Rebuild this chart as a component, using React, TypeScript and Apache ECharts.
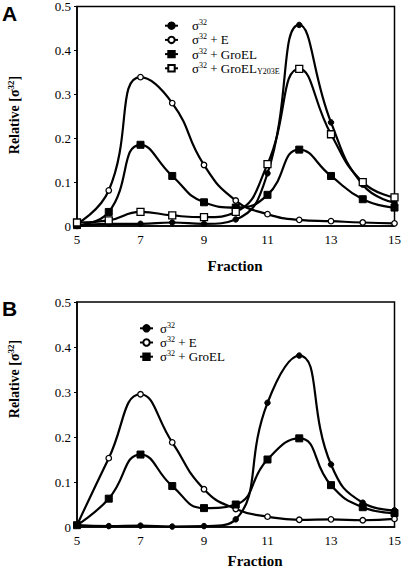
import React, { useEffect, useRef } from "react";
import * as echarts from "echarts";

const fractions = [5, 6, 7, 8, 9, 10, 11, 12, 13, 14, 15];

// Panel A
const sigmaA = [0, 0.005, 0.005, 0.008, 0.005, 0.015, 0.12, 0.458, 0.236, 0.094, 0.053];
const sigmaEA = [0.005, 0.081, 0.339, 0.28, 0.139, 0.058, 0.027, 0.014, 0.011, 0.008, 0.006];
const groelA = [0.002, 0.032, 0.185, 0.114, 0.054, 0.042, 0.071, 0.174, 0.114, 0.061, 0.042];
const y203eA = [0.008, 0.013, 0.032, 0.024, 0.02, 0.032, 0.141, 0.358, 0.209, 0.1, 0.065];

// Panel B
const sigmaB = [0.004, 0.002, 0.003, 0.001, 0.002, 0.017, 0.276, 0.381, 0.139, 0.054, 0.037];
const sigmaEB = [0.004, 0.153, 0.295, 0.188, 0.084, 0.04, 0.023, 0.016, 0.017, 0.015, 0.018];
const groelB = [0.004, 0.063, 0.161, 0.091, 0.042, 0.05, 0.15, 0.197, 0.093, 0.044, 0.031];

const N1 = "σ32";
const N2 = "σ32 + E";
const N3 = "σ32 + GroEL";
const N4 = "σ32 + GroELY203E";

const legendRich: Record<string, string> = {
  [N1]: "σ{sup|32}",
  [N2]: "σ{sup|32} + E",
  [N3]: "σ{sup|32} + GroEL",
  [N4]: "σ{sup|32} + GroEL{sub|Y203E}",
};

const SERIF = "Liberation Serif";
const SANS = "Liberation Sans";

const pairs = (ys: number[]) => fractions.map((x, i) => [x, ys[i]]);

const styles: Record<string, any> = {
  [N1]: { symbol: "circle", symbolSize: 5.5, itemStyle: { color: "#000", borderColor: "#000", borderWidth: 1 } },
  [N2]: { symbol: "circle", symbolSize: 5.5, itemStyle: { color: "#fff", borderColor: "#000", borderWidth: 1.3 } },
  [N3]: { symbol: "rect", symbolSize: 7, itemStyle: { color: "#000", borderColor: "#000", borderWidth: 1 } },
  [N4]: { symbol: "rect", symbolSize: 7, itemStyle: { color: "#fff", borderColor: "#000", borderWidth: 1.3 } },
};

const mkSeries = (name: string, ys: number[], idx: number) => ({
  name,
  type: "line",
  xAxisIndex: idx,
  yAxisIndex: idx,
  data: pairs(ys),
  smooth: 0.5,
  showSymbol: true,
  showAllSymbol: true,
  lineStyle: { color: "#000", width: 2.2 },
  ...styles[name],
  z: 3,
});

const xAxisBase = (gridIndex: number) => ({
  type: "value",
  gridIndex,
  min: 5,
  max: 15,
  interval: 1,
  axisLine: { show: true, lineStyle: { color: "#000", width: 1.5 } },
  axisTick: { show: false },
  splitLine: { show: false },
  axisLabel: {
    color: "#000",
    fontFamily: SERIF,
    fontSize: 13,
    margin: 7,
    formatter: (v: number) => (v % 2 === 1 ? String(v) : ""),
  },
});

const yAxisBase = (gridIndex: number) => ({
  type: "value",
  gridIndex,
  min: 0,
  max: 0.5,
  interval: 0.1,
  axisLine: { show: true, lineStyle: { color: "#000", width: 1.5 } },
  axisTick: { show: true, inside: false, length: 3, lineStyle: { color: "#000", width: 1 } },
  splitLine: { show: false },
  axisLabel: {
    color: "#000",
    fontFamily: SERIF,
    fontSize: 13,
    margin: 6,
    formatter: (v: number) => (v === 0 ? "0" : v.toFixed(1)),
  },
});

const legendBase = (data: string[], left: number, top: number, textPad: number) => ({
  orient: "vertical",
  left,
  top,
  itemWidth: 13,
  itemHeight: 8,
  itemGap: 0,
  selectedMode: false,
  data,
  formatter: (name: string) => legendRich[name] || name,
  textStyle: {
    color: "#000",
    fontFamily: SERIF,
    fontSize: 13,
    lineHeight: 14.2,
    padding: [0, 0, 0, textPad],
    rich: {
      sup: { fontFamily: SERIF, fontSize: 8, color: "#000", verticalAlign: "top", lineHeight: 14.2, padding: [0, 0, 4, 0] },
      sub: { fontFamily: SERIF, fontSize: 8, color: "#000", verticalAlign: "bottom", lineHeight: 14.2, padding: [4, 0, 0, 0] },
    },
  },
});

const ylabelRich = {
  sup: { fontFamily: SERIF, fontSize: 9, fontWeight: "bold", fill: "#000", color: "#000", padding: [0, 0, 6, 0] },
};

export default function App() {
  const ref = useRef<HTMLDivElement>(null);
  useEffect(() => {
    if (!ref.current) return;
    const chart = echarts.init(ref.current, null, { renderer: "svg" });
    chart.setOption({
      animation: false,
      backgroundColor: "#fff",
      textStyle: { fontFamily: SERIF },
      grid: [
        { left: 77, top: 4, width: 319, height: 222, show: true, borderColor: "#000", borderWidth: 1.5, backgroundColor: "transparent" },
        { left: 77, top: 302, width: 319, height: 225, show: true, borderColor: "#000", borderWidth: 1.5, backgroundColor: "transparent" },
      ],
      xAxis: [xAxisBase(0), xAxisBase(1)],
      yAxis: [yAxisBase(0), yAxisBase(1)],
      legend: [
        legendBase([N1, N2, N3, N4], 159, 13.6, 9),
        legendBase([N1, N2, N3], 134, 316.2, 2),
      ],
      series: [
        mkSeries(N1, sigmaA, 0),
        mkSeries(N2, sigmaEA, 0),
        mkSeries(N3, groelA, 0),
        mkSeries(N4, y203eA, 0),
        mkSeries(N1, sigmaB, 1),
        mkSeries(N2, sigmaEB, 1),
        mkSeries(N3, groelB, 1),
      ],
      graphic: [
        {
          type: "text",
          left: 2,
          top: 3,
          style: { text: "A", fontFamily: SANS, fontWeight: "bold", fontSize: 21, fill: "#000" },
        },
        {
          type: "text",
          left: 2,
          top: 298,
          style: { text: "B", fontFamily: SANS, fontWeight: "bold", fontSize: 21, fill: "#000" },
        },
        {
          type: "text",
          x: 235,
          y: 266,
          style: { text: "Fraction", fontFamily: SERIF, fontWeight: "bold", fontSize: 15, fill: "#000", align: "center", verticalAlign: "middle" },
        },
        {
          type: "text",
          x: 255,
          y: 561,
          style: { text: "Fraction", fontFamily: SERIF, fontWeight: "bold", fontSize: 15, fill: "#000", align: "center", verticalAlign: "middle" },
        },
        {
          type: "text",
          x: 14,
          y: 115,
          rotation: Math.PI / 2,
          style: { text: "Relative [σ{sup|32}]", fontFamily: SERIF, fontWeight: "bold", fontSize: 14, fill: "#000", align: "center", verticalAlign: "middle", rich: ylabelRich },
        },
        {
          type: "text",
          x: 14,
          y: 379,
          rotation: Math.PI / 2,
          style: { text: "Relative [σ{sup|32}]", fontFamily: SERIF, fontWeight: "bold", fontSize: 14, fill: "#000", align: "center", verticalAlign: "middle", rich: ylabelRich },
        },
      ],
    });
    return () => chart.dispose();
  }, []);
  return <div ref={ref} style={{ position: "fixed", left: 0, top: 0, width: 404, height: 571 }} />;
}
